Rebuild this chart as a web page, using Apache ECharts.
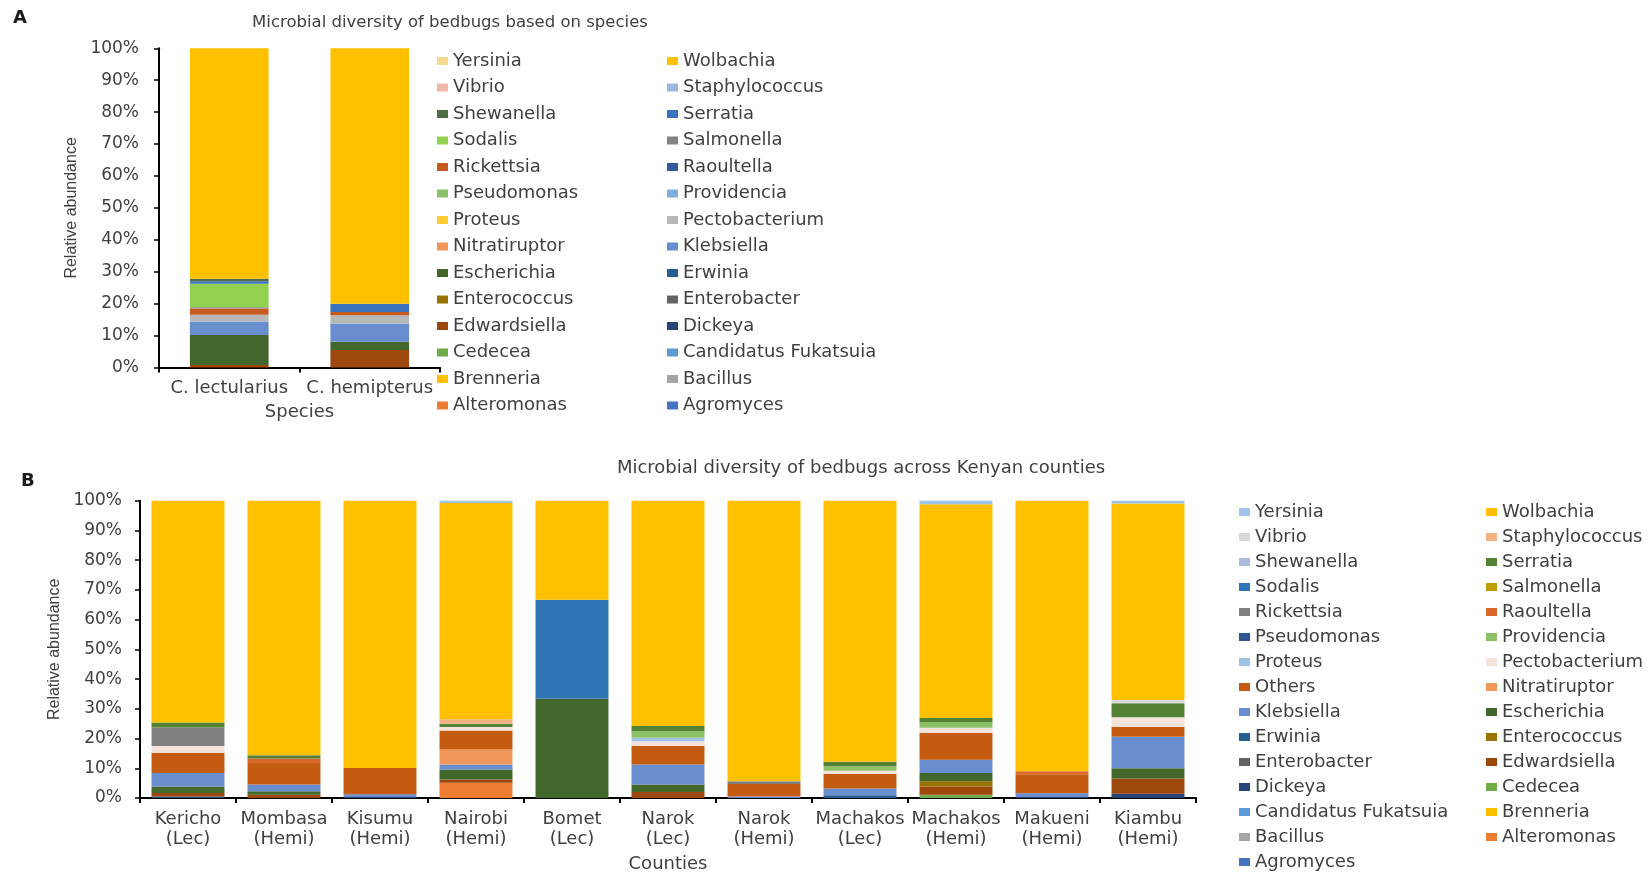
<!DOCTYPE html>
<html>
<head>
<meta charset="utf-8">
<title>Microbial diversity of bedbugs</title>
<script src="https://cdn.jsdelivr.net/npm/echarts@6/dist/echarts.min.js"></script>
<style>
  html, body { margin: 0; padding: 0; background: #ffffff; }
  #speciesChart { position: absolute; left: 0; top: 0; width: 1650px; height: 440px; }
  #countyChart  { position: absolute; left: 0; top: 440px; width: 1650px; height: 434px; }
</style>
</head>
<body>
<div id="speciesChart"></div>
<div id="countyChart"></div>
<script>
// ---------------- Panel A: by species ----------------
const speciesCategories = ['C. lectularius', 'C. hemipterus'];

// relative abundance (%) per genus: [C. lectularius, C. hemipterus]
const spAgromyces      = [0, 0];
const spAlteromonas    = [0, 0];
const spBacillus       = [0, 0];
const spBrenneria      = [0, 0];
const spCandidatus     = [0, 0];
const spCedecea        = [0, 0];
const spDickeya        = [0, 0];
const spEdwardsiella   = [0.8, 5.5];
const spEnterobacter   = [0, 0];
const spEnterococcus   = [0, 0];
const spErwinia        = [0, 0];
const spEscherichia    = [9.4, 2.6];
const spKlebsiella     = [4.2, 5.7];
const spNitratiruptor  = [0, 0];
const spPectobacterium = [2.1, 2.6];
const spProteus        = [0, 0];
const spProvidencia    = [0, 0];
const spPseudomonas    = [0, 0];
const spRaoultella     = [0, 0];
const spRickettsia     = [2.0, 1.0];
const spSalmonella     = [0.4, 0];
const spSodalis        = [7.3, 0];
const spSerratia       = [0.8, 2.6];
const spShewanella     = [0.8, 0];
const spStaphylococcus = [0, 0];
const spVibrio         = [0, 0];
const spWolbachia      = [72.2, 80.0];
const spYersinia       = [0, 0];

// stacking order, bottom to top
const speciesStack = [
  ['Agromyces', spAgromyces], ['Alteromonas', spAlteromonas], ['Bacillus', spBacillus],
  ['Brenneria', spBrenneria], ['Candidatus Fukatsuia', spCandidatus], ['Cedecea', spCedecea],
  ['Dickeya', spDickeya], ['Edwardsiella', spEdwardsiella], ['Enterobacter', spEnterobacter],
  ['Enterococcus', spEnterococcus], ['Erwinia', spErwinia], ['Escherichia', spEscherichia],
  ['Klebsiella', spKlebsiella], ['Nitratiruptor', spNitratiruptor], ['Pectobacterium', spPectobacterium],
  ['Proteus', spProteus], ['Providencia', spProvidencia], ['Pseudomonas', spPseudomonas],
  ['Raoultella', spRaoultella], ['Rickettsia', spRickettsia], ['Salmonella', spSalmonella],
  ['Sodalis', spSodalis], ['Serratia', spSerratia], ['Shewanella', spShewanella],
  ['Staphylococcus', spStaphylococcus], ['Vibrio', spVibrio], ['Wolbachia', spWolbachia],
  ['Yersinia', spYersinia]
];

const speciesLegendLeft  = ['Yersinia', 'Vibrio', 'Shewanella', 'Sodalis', 'Rickettsia', 'Pseudomonas', 'Proteus',
  'Nitratiruptor', 'Escherichia', 'Enterococcus', 'Edwardsiella', 'Cedecea', 'Brenneria', 'Alteromonas'];
const speciesLegendRight = ['Wolbachia', 'Staphylococcus', 'Serratia', 'Salmonella', 'Raoultella', 'Providencia',
  'Pectobacterium', 'Klebsiella', 'Erwinia', 'Enterobacter', 'Dickeya', 'Candidatus Fukatsuia', 'Bacillus', 'Agromyces'];

// ---------------- Panel B: by county ----------------
const countyCategories = ['Kericho\n(Lec)', 'Mombasa\n(Hemi)', 'Kisumu\n(Hemi)', 'Nairobi\n(Hemi)', 'Bomet\n(Lec)',
  'Narok\n(Lec)', 'Narok\n(Hemi)', 'Machakos\n(Lec)', 'Machakos\n(Hemi)', 'Makueni\n(Hemi)', 'Kiambu\n(Hemi)'];

// relative abundance (%) per genus, one value per county in the order above
const coAgromyces      = [0, 0, 0, 0, 0, 0, 0, 0, 0, 0, 0];
const coAlteromonas    = [0, 0, 0, 5.1, 0, 0, 0, 0, 0, 0, 0];
const coBacillus       = [0, 0, 0, 0, 0, 0, 0, 0, 0, 0, 0];
const coBrenneria      = [0, 0, 0, 0, 0, 0, 0, 0, 0, 0, 0];
const coCandidatus     = [0, 0, 0, 0, 0, 0, 0, 0, 0, 0, 0];
const coCedecea        = [0, 0, 0, 0, 0, 0, 0, 0, 1.1, 0, 0];
const coDickeya        = [0.5, 0, 0.3, 0, 0, 0, 0, 0, 0, 0.3, 1.4];
const coEdwardsiella   = [1.2, 1.1, 0, 1.1, 0, 2.0, 0, 0, 2.8, 0, 5.2];
const coEnterobacter   = [0, 0, 0, 0, 0, 0, 0, 0, 0, 0, 0];
const coEnterococcus   = [0, 0, 0, 0, 0, 0, 0, 0, 1.7, 0, 0];
const coErwinia        = [0, 0, 0, 0, 0, 0, 0, 0.9, 0, 0, 0];
const coEscherichia    = [2.2, 1.2, 0, 3.4, 33.4, 2.5, 0, 0, 2.8, 0, 3.4];
const coKlebsiella     = [4.5, 2.2, 1.0, 1.7, 0, 6.8, 0.5, 2.3, 4.5, 1.3, 10.6];
const coNitratiruptor  = [0, 0, 0, 5.0, 0, 0, 0, 0, 0, 0, 0];
const coOthers         = [6.8, 7.3, 8.8, 6.4, 0, 6.2, 4.2, 4.9, 9.0, 6.4, 3.4];
const coPectobacterium = [2.3, 0, 0, 1.2, 0, 1.6, 0, 1.1, 1.7, 0, 3.2];
const coProteus        = [0, 0, 0, 0, 0, 1.2, 0, 0, 0, 0, 0];
const coProvidencia    = [0, 0, 0, 0, 0, 2.2, 0, 1.5, 2.0, 0, 0];
const coPseudomonas    = [0, 0, 0, 0, 0, 0, 0, 0, 0, 0, 0];
const coRaoultella     = [0, 1.5, 0, 0, 0, 0, 0, 0, 0, 1.0, 0];
const coRickettsia     = [6.2, 0, 0, 0, 0, 0, 0.9, 0, 0, 0, 0];
const coSalmonella     = [0, 0, 0, 0, 0, 0, 0, 0, 0, 0, 0];
const coSodalis        = [0, 0, 0, 0, 33.3, 0, 0, 0, 0, 0, 0];
const coSerratia       = [1.7, 1.1, 0, 1.1, 0, 1.7, 0, 1.5, 1.3, 0, 4.7];
const coShewanella     = [0, 0, 0, 0, 0, 0, 0, 0, 0, 0, 0];
const coStaphylococcus = [0, 0, 0, 1.5, 0, 0, 0, 0, 0, 0, 0];
const coVibrio         = [0, 0, 0, 0, 0, 0, 0, 0, 0, 0, 1.1];
const coWolbachia      = [74.6, 85.6, 89.9, 72.7, 33.3, 75.8, 94.4, 87.8, 71.9, 91.0, 66.1];
const coYersinia       = [0, 0, 0, 0.8, 0, 0, 0, 0, 1.2, 0, 0.9];

const countyStack = [
  ['Agromyces', coAgromyces], ['Alteromonas', coAlteromonas], ['Bacillus', coBacillus],
  ['Brenneria', coBrenneria], ['Candidatus Fukatsuia', coCandidatus], ['Cedecea', coCedecea],
  ['Dickeya', coDickeya], ['Edwardsiella', coEdwardsiella], ['Enterobacter', coEnterobacter],
  ['Enterococcus', coEnterococcus], ['Erwinia', coErwinia], ['Escherichia', coEscherichia],
  ['Klebsiella', coKlebsiella], ['Nitratiruptor', coNitratiruptor], ['Others', coOthers],
  ['Pectobacterium', coPectobacterium], ['Proteus', coProteus], ['Providencia', coProvidencia],
  ['Pseudomonas', coPseudomonas], ['Raoultella', coRaoultella], ['Rickettsia', coRickettsia],
  ['Salmonella', coSalmonella], ['Sodalis', coSodalis], ['Serratia', coSerratia],
  ['Shewanella', coShewanella], ['Staphylococcus', coStaphylococcus], ['Vibrio', coVibrio],
  ['Wolbachia', coWolbachia], ['Yersinia', coYersinia]
];

const countyLegendLeft  = ['Yersinia', 'Vibrio', 'Shewanella', 'Sodalis', 'Rickettsia', 'Pseudomonas', 'Proteus',
  'Others', 'Klebsiella', 'Erwinia', 'Enterobacter', 'Dickeya', 'Candidatus Fukatsuia', 'Bacillus', 'Agromyces'];
const countyLegendRight = ['Wolbachia', 'Staphylococcus', 'Serratia', 'Salmonella', 'Raoultella', 'Providencia',
  'Pectobacterium', 'Nitratiruptor', 'Escherichia', 'Enterococcus', 'Edwardsiella', 'Cedecea', 'Brenneria', 'Alteromonas'];

// ---------------- colours (same order as the stacks) ----------------
const speciesColors = [
  '#4472c4', '#ed7d31', '#a5a5a5', '#ffc000', '#5b9bd5', '#70ad47',
  '#264478', '#9e480e', '#636363', '#997300', '#255e91', '#43682b',
  '#698ed0', '#f1975a', '#b7b7b7', '#ffcd33', '#7cafdd', '#8cc168',
  '#335aa1', '#c65a1e', '#848484', '#92d050', '#3a72bd', '#4f6e48',
  '#9ab8e0', '#f0b8a8', '#ffc000', '#f5dc8e'
];
const countyColors = [
  '#4472c4', '#ed7d31', '#a5a5a5', '#ffc000', '#5b9bd5', '#70ad47',
  '#264478', '#9e480e', '#636363', '#997300', '#255e91', '#43682b',
  '#698ed0', '#f1975a', '#c55a11', '#f6e4dc', '#9dc3e6', '#8cc168',
  '#2f5597', '#d8692a', '#808080', '#bf9f00', '#2e75b6', '#548235',
  '#a9b9e0', '#f4b183', '#d9d9d9', '#ffc000', '#9dc3e6'
];

const FONT = 'DejaVu Sans';
const TEXT = '#404040';

function stackSeries(stack, colors, gap) {
  return stack.map(function (entry, i) {
    return {
      name: entry[0],
      type: 'bar',
      stack: 'abundance',
      data: entry[1],
      barCategoryGap: gap,
      itemStyle: { color: colors[i] },
      emphasis: { disabled: true }
    };
  });
}

function legendColumn(names, left, top, gap) {
  return {
    orient: 'vertical',
    left: left,
    top: top,
    padding: 0,
    itemGap: gap,
    itemWidth: 11,
    itemHeight: 8,
    icon: 'rect',
    selectedMode: false,
    data: names,
    textStyle: { fontFamily: FONT, fontSize: 18, color: TEXT, lineHeight: 18 }
  };
}

function categoryAxis(cats, name, nameGap) {
  return {
    type: 'category',
    data: cats,
    name: name,
    nameLocation: 'middle',
    nameGap: nameGap,
    nameTextStyle: { fontFamily: FONT, fontSize: 18, color: TEXT },
    axisLine: { show: true, lineStyle: { color: '#000', width: 2 } },
    axisTick: { show: true, length: 5, lineStyle: { color: '#000', width: 2 } },
    axisLabel: { interval: 0, margin: 11, fontFamily: FONT, fontSize: 18, color: TEXT, lineHeight: 20 }
  };
}

function percentAxis(nameGap, labelMargin) {
  return {
    type: 'value',
    min: 0,
    max: 100,
    interval: 10,
    name: 'Relative abundance',
    nameLocation: 'middle',
    nameGap: nameGap,
    nameTextStyle: { fontFamily: 'Liberation Sans', fontSize: 16, color: TEXT },
    axisLine: { show: true, lineStyle: { color: '#000', width: 2 } },
    axisTick: { show: true, length: 5, lineStyle: { color: '#000', width: 1.5 } },
    axisLabel: { formatter: '{value}%', margin: labelMargin, fontFamily: FONT, fontSize: 17, color: TEXT },
    splitLine: { show: false }
  };
}

const speciesChart = echarts.init(document.getElementById('speciesChart'), null, { renderer: 'canvas' });
speciesChart.setOption({
  animation: false,
  backgroundColor: '#ffffff',
  title: {
    text: 'Microbial diversity of bedbugs based on species',
    left: 450, top: 14, textAlign: 'center', padding: 0,
    textStyle: { fontFamily: FONT, fontSize: 16.5, fontWeight: 'normal', color: TEXT }
  },
  graphic: [{
    type: 'text', left: 13, top: 9,
    style: { text: 'A', font: 'bold 18px "DejaVu Sans"', fill: '#1a1a1a' }
  }],
  legend: [
    legendColumn(speciesLegendLeft, 437, 52, 8.5),
    legendColumn(speciesLegendRight, 667, 52, 8.5)
  ],
  grid: { left: 159, top: 48.3, width: 281, height: 319.2, outerBoundsMode: 'none' },
  xAxis: categoryAxis(speciesCategories, 'Species', 36),
  yAxis: percentAxis(79, 20),
  series: stackSeries(speciesStack, speciesColors, '44%')
});

const countyChart = echarts.init(document.getElementById('countyChart'), null, { renderer: 'canvas' });
countyChart.setOption({
  animation: false,
  backgroundColor: '#ffffff',
  title: {
    text: 'Microbial diversity of bedbugs across Kenyan counties',
    left: 861, top: 19, textAlign: 'center', padding: 0,
    textStyle: { fontFamily: FONT, fontSize: 18, fontWeight: 'normal', color: TEXT }
  },
  graphic: [{
    type: 'text', left: 21, top: 32,
    style: { text: 'B', font: 'bold 18px "DejaVu Sans"', fill: '#1a1a1a' }
  }],
  legend: [
    legendColumn(countyLegendLeft, 1239, 63, 7),
    legendColumn(countyLegendRight, 1486, 63, 7)
  ],
  grid: { left: 140, top: 60.7, width: 1056, height: 297.3, outerBoundsMode: 'none' },
  xAxis: categoryAxis(countyCategories, 'Counties', 57),
  yAxis: percentAxis(75, 18),
  series: stackSeries(countyStack, countyColors, '24%')
});
</script>
</body>
</html>
